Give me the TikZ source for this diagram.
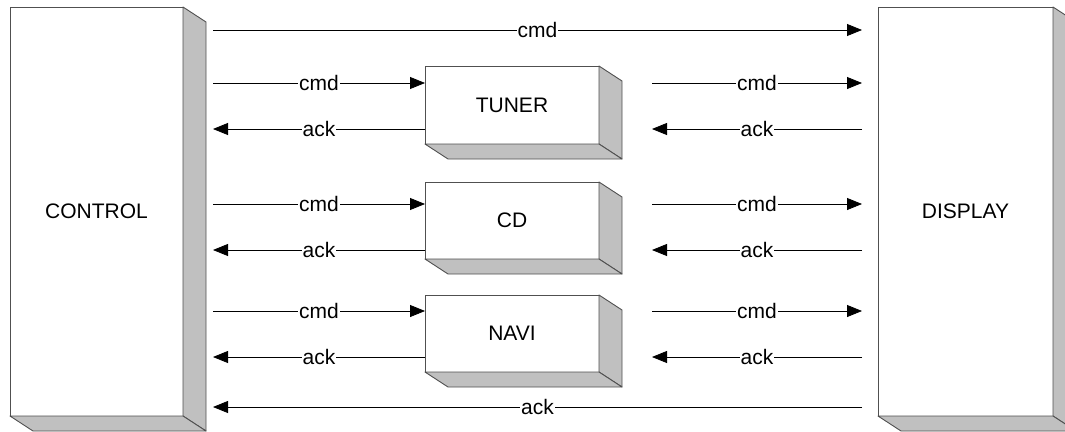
\documentclass[tikz,border=0pt]{standalone}
\usepackage{fontspec}
\setmainfont{Liberation Sans}
\usetikzlibrary{arrows.meta}
\definecolor{sidegray}{HTML}{C0C0C0}
\definecolor{edgegray}{HTML}{505050}
\begin{document}
\begin{tikzpicture}[
  x=1pt, y=-1pt,
  font=\fontsize{21}{25}\selectfont,
  front/.style={draw=edgegray, fill=white, line width=0.9pt, outer sep=0pt,
                anchor=north west, inner sep=0pt},
  depth/.style={draw=edgegray, fill=sidegray, line width=0.9pt, line join=round},
  flow/.style={draw=black, line width=0.8pt, -{Triangle[length=15pt, width=12pt]}},
  lbl/.style={fill=white, inner sep=1pt, pos=0.5}
]
\useasboundingbox (0,0) rectangle (1065,431);

\node[front, minimum width=173pt, minimum height=409pt] (control) at (10,7) {CONTROL};
\node[front, minimum width=175pt, minimum height=409pt] (display) at (878,7) {DISPLAY};
\node[front, minimum width=174pt, minimum height=78pt] (tuner) at (425,66) {TUNER};
\node[front, minimum width=174pt, minimum height=77pt] (cd) at (425,182) {CD};
\node[front, minimum width=174pt, minimum height=77pt] (navi) at (425,295) {NAVI};

% side and bottom faces
\foreach \n in {control,display,tuner,cd,navi} {
  \draw[depth] (\n.north east) -- ([shift={(23,15)}]\n.north east)
    -- ([shift={(23,15)}]\n.south east) -- (\n.south east) -- cycle;
  \draw[depth] (\n.south west) -- ([shift={(23,15)}]\n.south west)
    -- ([shift={(23,15)}]\n.south east) -- (\n.south east) -- cycle;
}

\coordinate (lx) at (213,0);
\coordinate (mx) at (652,0);
\coordinate (rx) at (862,0);

\draw[flow] (lx |- 0,30) -- node[lbl]{cmd} (rx |- 0,30);
\draw[flow] (rx |- 0,407) -- node[lbl]{ack} (lx |- 0,407);

\draw[flow] (lx |- 0,83) -- node[lbl]{cmd} (tuner.west |- 0,83);
\draw[flow] (tuner.west |- 0,129) -- node[lbl]{ack} (lx |- 0,129);
\draw[flow] (mx |- 0,83) -- node[lbl]{cmd} (rx |- 0,83);
\draw[flow] (rx |- 0,129) -- node[lbl]{ack} (mx |- 0,129);

\draw[flow] (lx |- 0,204) -- node[lbl]{cmd} (cd.west |- 0,204);
\draw[flow] (cd.west |- 0,250) -- node[lbl]{ack} (lx |- 0,250);
\draw[flow] (mx |- 0,204) -- node[lbl]{cmd} (rx |- 0,204);
\draw[flow] (rx |- 0,250) -- node[lbl]{ack} (mx |- 0,250);

\draw[flow] (lx |- 0,311) -- node[lbl]{cmd} (navi.west |- 0,311);
\draw[flow] (navi.west |- 0,357) -- node[lbl]{ack} (lx |- 0,357);
\draw[flow] (mx |- 0,311) -- node[lbl]{cmd} (rx |- 0,311);
\draw[flow] (rx |- 0,357) -- node[lbl]{ack} (mx |- 0,357);
\end{tikzpicture}
\end{document}
